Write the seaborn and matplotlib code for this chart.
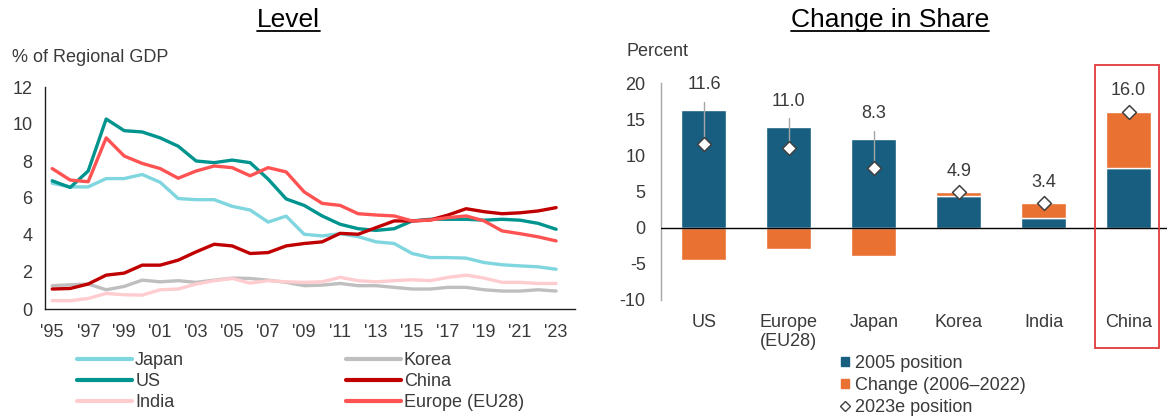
import matplotlib
matplotlib.use("Agg")
import numpy as np
import pandas as pd
import matplotlib.pyplot as plt
import seaborn as sns
from matplotlib.patches import Rectangle, Patch
from matplotlib.lines import Line2D

# --- datos panel izquierdo: % del PIB regional ---
years = list(range(1995, 2024))
japan = [6.8, 6.6, 6.6, 7.05, 7.05, 7.27, 6.85, 5.97, 5.91, 5.91, 5.55, 5.35, 4.7, 5.02, 4.04,
         3.95, 4.07, 3.91, 3.63, 3.54, 3.0, 2.78, 2.78, 2.75, 2.51, 2.39, 2.33, 2.28, 2.15]
us = [6.93, 6.57, 7.46, 10.27, 9.64, 9.57, 9.25, 8.8, 8.0, 7.91, 8.05, 7.91, 7.02, 5.95, 5.6,
      5.03, 4.58, 4.34, 4.25, 4.34, 4.76, 4.85, 4.85, 4.85, 4.8, 4.85, 4.8, 4.63, 4.31]
europe = [7.59, 6.97, 6.88, 9.25, 8.27, 7.87, 7.59, 7.07, 7.46, 7.73, 7.64, 7.2, 7.64, 7.41, 6.33,
          5.71, 5.6, 5.15, 5.08, 5.03, 4.76, 4.81, 4.94, 5.03, 4.76, 4.22, 4.07, 3.9, 3.68]
china = [1.08, 1.11, 1.35, 1.83, 1.94, 2.37, 2.37, 2.64, 3.09, 3.5, 3.41, 3.0, 3.05, 3.41, 3.54,
         3.63, 4.09, 4.04, 4.4, 4.76, 4.76, 4.81, 5.08, 5.42, 5.26, 5.15, 5.2, 5.3, 5.48]
korea = [1.26, 1.31, 1.35, 1.04, 1.22, 1.56, 1.47, 1.53, 1.44, 1.56, 1.67, 1.65, 1.56, 1.44, 1.26,
         1.29, 1.38, 1.26, 1.26, 1.17, 1.08, 1.08, 1.17, 1.17, 1.04, 0.97, 0.97, 1.04, 0.97]
india = [0.45, 0.45, 0.57, 0.84, 0.77, 0.75, 1.04, 1.08, 1.35, 1.53, 1.65, 1.4, 1.53, 1.47, 1.44,
         1.47, 1.71, 1.53, 1.47, 1.53, 1.58, 1.53, 1.71, 1.83, 1.67, 1.44, 1.44, 1.38, 1.38]

# --- datos panel derecho: cambio en la participación ---
regions = ["US", "Europe\n(EU28)", "Japan", "Korea", "India", "China"]
pos_2005 = [16.2, 13.9, 12.2, 4.4, 1.3, 8.2]
change = [-4.5, -2.9, -3.9, 0.5, 2.1, 7.8]
pos_2023 = [11.6, 11.0, 8.3, 4.9, 3.4, 16.0]

colors = {"Japan": "#7fd6de", "US": "#00948f", "India": "#ffcccf",
          "Korea": "#bfbfbf", "China": "#c00000", "Europe (EU28)": "#ff5252"}
blue = "#175e80"
orange = "#e97132"
txt = "#3a3a3a"

sns.set_theme(style="white")
plt.rcParams['font.family'] = ['Liberation Sans', 'DejaVu Sans']
plt.rcParams['axes.unicode_minus'] = False

W, H = 1167, 417
fig = plt.figure(figsize=(W / 100, H / 100), dpi=100)
ax1 = fig.add_axes([45 / W, 1 - 309 / H, 530 / W, 222 / H])
ax2 = fig.add_axes([661 / W, 1 - 300 / H, (W - 661) / W, 217 / H])

# panel izquierdo
series = {"Korea": korea, "India": india, "Japan": japan, "US": us,
          "China": china, "Europe (EU28)": europe}
df = pd.DataFrame([(y, k, v) for k, vals in series.items() for y, v in zip(years, vals)],
                  columns=["year", "series", "value"])
sns.lineplot(data=df, x="year", y="value", hue="series", hue_order=list(series.keys()),
             palette=colors, linewidth=2.4, legend=False, ax=ax1)
ax1.set_xlim(1994.6, 2024.05)
ax1.set_ylim(0, 12)
ax1.set_yticks(range(0, 13, 2))
ax1.set_xticks(years[::2])
ax1.set_xticklabels(["'" + str(y)[2:] for y in years[::2]])
ax1.set_xlabel("")
ax1.set_ylabel("")
for s in ["top", "right"]:
    ax1.spines[s].set_visible(False)
for s in ["left", "bottom"]:
    ax1.spines[s].set_color("#202020")
    ax1.spines[s].set_linewidth(1.0)
ax1.tick_params(axis="both", length=0, labelsize=13, colors=txt)
ax1.tick_params(axis="y", pad=9)
ax1.tick_params(axis="x", pad=11)

order = ["Japan", "US", "India", "Korea", "China", "Europe (EU28)"]
handles = [Line2D([], [], color=colors[k], lw=3) for k in order]
fig.legend(handles, order, ncol=2, loc="upper left", bbox_to_anchor=(77 / W, 1 - 352 / H),
           frameon=False, fontsize=13, handlelength=3.05, handletextpad=0.17,
           columnspacing=8.95, labelspacing=0.22, borderpad=0, borderaxespad=0,
           labelcolor=txt)
fig.text(12 / W, 1 - 57 / H, "% of Regional GDP", fontsize=13, color=txt, va="center", ha="left")

# panel derecho
x = np.arange(len(regions))
bottoms = [b if c > 0 else 0 for b, c in zip(pos_2005, change)]
sns.barplot(x=regions, y=pos_2005, color=blue, saturation=1, width=0.53, ax=ax2)
sns.barplot(x=regions, y=change, bottom=bottoms, color=orange, saturation=1, width=0.53, ax=ax2)
ax2.axhline(0, color="black", lw=1, zorder=3)

for i in x:
    top = max(pos_2005[i], pos_2005[i] + change[i])
    if pos_2023[i] < top - 0.5:
        ax2.plot([i, i], [pos_2023[i], top + 1.2], color="#a6a6a6", lw=1, zorder=4)
        ly = top + 3.6
    else:
        ly = top + 2.9
    ax2.text(i, ly, f"{pos_2023[i]:.1f}", ha="center", va="center", fontsize=13, color=txt)

sns.scatterplot(x=x, y=pos_2023, marker="D", s=50, color="white", edgecolor="#404040",
                linewidth=1.1, zorder=6, ax=ax2)

ax2.set_xlim(-0.506, 5.453)
ax2.set_ylim(-10, 20)
ax2.set_yticks(range(-10, 21, 5))
ax2.set_xlabel("")
ax2.set_ylabel("")
for s in ["top", "right", "bottom"]:
    ax2.spines[s].set_visible(False)
ax2.spines["left"].set_color("#a6a6a6")
ax2.spines["left"].set_linewidth(1.0)
ax2.tick_params(axis="both", length=0, labelsize=13, colors=txt)
ax2.tick_params(axis="y", pad=11)
ax2.tick_params(axis="x", pad=10)

ax2.add_patch(Rectangle((4.605, -16.7), 0.755, 39.2, fill=False, edgecolor="#e03a3a",
                        lw=1.3, clip_on=False, zorder=7))

fig.text(626 / W, 1 - 52 / H, "Percent", fontsize=13, color=txt, va="center", ha="left")

leg_h = [Patch(color=blue), Patch(color=orange),
         Line2D([], [], marker="D", ls="", mfc="white", mec="#404040", ms=5.5)]
leg_l = ["2005 position", "Change (2006\u20132022)", "2023e position"]
fig.legend(leg_h, leg_l, loc="upper left", bbox_to_anchor=(841 / W, 1 - 355 / H),
           frameon=False, fontsize=13, handlelength=0.45, handleheight=0.45,
           handletextpad=0.3, labelspacing=0.27, borderpad=0, borderaxespad=0,
           labelcolor=txt)

# títulos subrayados
titles = [fig.text(288 / W, 1 - 20 / H, "Level", fontsize=19, color="black", ha="center", va="center"),
          fig.text(890 / W, 1 - 20 / H, "Change in Share", fontsize=19, color="black", ha="center", va="center")]
fig.canvas.draw()
for t in titles:
    bb = t.get_window_extent()
    yl = (bb.y0 + 1) / H
    fig.add_artist(Line2D([bb.x0 / W, bb.x1 / W], [yl, yl], color="black", lw=1.3,
                          transform=fig.transFigure))

fig.savefig("out.png", dpi=100)
